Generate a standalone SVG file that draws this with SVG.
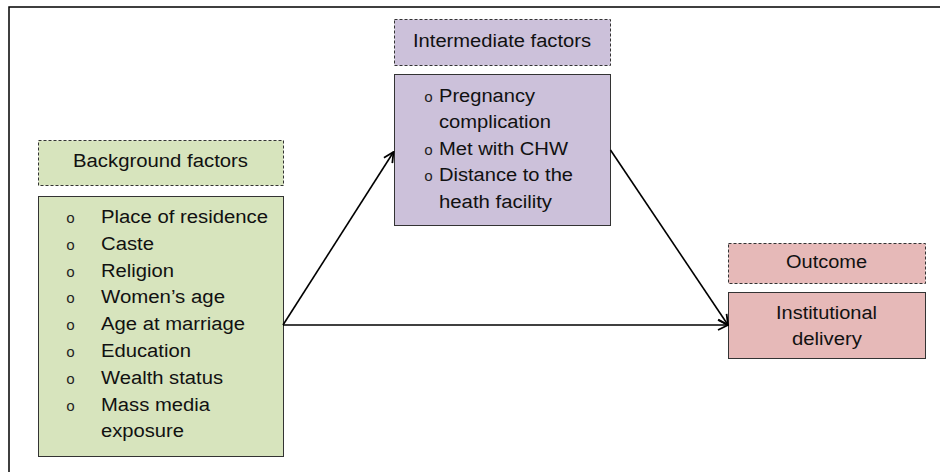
<svg xmlns="http://www.w3.org/2000/svg" width="940" height="472" viewBox="0 0 940 472">
<style>
text{font-family:"Liberation Sans",Arial,sans-serif;font-size:18px;fill:#111}
.c{text-anchor:middle}
.b{font-family:"Liberation Mono","Courier New",monospace;font-size:15px;fill:#222}
.hd{stroke:#333;stroke-width:1;stroke-dasharray:3,2}
.bx{stroke:#333;stroke-width:1}
.g{fill:#d7e4bd}.p{fill:#ccc1da}.r{fill:#e6b9b8}
.con{stroke:#000;stroke-width:1.6;fill:none}
</style>
<defs>
<marker id="ah" markerWidth="12" markerHeight="12" refX="11" refY="6" orient="auto" markerUnits="userSpaceOnUse">
<path d="M1,1 L11,6 L1,11" fill="none" stroke="#000" stroke-width="1.8"/>
</marker>
</defs>
<rect x="9" y="7" width="940" height="470" fill="#fff" stroke="#000" stroke-width="1.5"/>
<g id="background-header">
<rect class="hd g" x="38.5" y="140.5" width="245" height="45"/>
<text class="c" x="160.5" y="166.5" textLength="175" lengthAdjust="spacingAndGlyphs">Background factors</text>
</g>
<g id="background-factors">
<rect class="bx g" x="38.5" y="196.5" width="245" height="260"/>
<text class="b" x="66" y="223">o</text>
<text x="101" y="223" textLength="167" lengthAdjust="spacingAndGlyphs">Place of residence</text>
<text class="b" x="66" y="249.8">o</text>
<text x="101" y="249.8" textLength="53" lengthAdjust="spacingAndGlyphs">Caste</text>
<text class="b" x="66" y="276.6">o</text>
<text x="101" y="276.6" textLength="73" lengthAdjust="spacingAndGlyphs">Religion</text>
<text class="b" x="66" y="303.4">o</text>
<text x="101" y="303.4" textLength="124" lengthAdjust="spacingAndGlyphs">Women’s age</text>
<text class="b" x="66" y="330.2">o</text>
<text x="101" y="330.2" textLength="144" lengthAdjust="spacingAndGlyphs">Age at marriage</text>
<text class="b" x="66" y="357">o</text>
<text x="101" y="357" textLength="90" lengthAdjust="spacingAndGlyphs">Education</text>
<text class="b" x="66" y="383.8">o</text>
<text x="101" y="383.8" textLength="122" lengthAdjust="spacingAndGlyphs">Wealth status</text>
<text class="b" x="66" y="410.6">o</text>
<text x="101" y="410.6" textLength="109" lengthAdjust="spacingAndGlyphs">Mass media</text>
<text x="101" y="437.4" textLength="83" lengthAdjust="spacingAndGlyphs">exposure</text>
</g>
<g id="intermediate-header">
<rect class="hd p" x="394.5" y="19.5" width="216" height="46"/>
<text class="c" x="502" y="46.7" textLength="178" lengthAdjust="spacingAndGlyphs">Intermediate factors</text>
</g>
<g id="intermediate-factors">
<rect class="bx p" x="394.5" y="74.5" width="216" height="151"/>
<text class="b" x="424" y="101.7">o</text>
<text x="439" y="101.7" textLength="96" lengthAdjust="spacingAndGlyphs">Pregnancy</text>
<text x="439" y="128.2" textLength="112" lengthAdjust="spacingAndGlyphs">complication</text>
<text class="b" x="424" y="154.7">o</text>
<text x="439" y="154.7" textLength="129" lengthAdjust="spacingAndGlyphs">Met with CHW</text>
<text class="b" x="424" y="181.2">o</text>
<text x="439" y="181.2" textLength="134" lengthAdjust="spacingAndGlyphs">Distance to the</text>
<text x="439" y="207.7" textLength="113" lengthAdjust="spacingAndGlyphs">heath facility</text>
</g>
<g id="outcome-header">
<rect class="hd r" x="728.5" y="243.5" width="197" height="40"/>
<text class="c" x="826.5" y="268.3" textLength="81" lengthAdjust="spacingAndGlyphs">Outcome</text>
</g>
<g id="outcome">
<rect class="bx r" x="728.5" y="292.5" width="197" height="66"/>
<text class="c" x="826.5" y="318.7" textLength="101" lengthAdjust="spacingAndGlyphs">Institutional</text>
<text class="c" x="827" y="345.4" textLength="70" lengthAdjust="spacingAndGlyphs">delivery</text>
</g>
<g id="connectors">
<line class="con" x1="283" y1="325" x2="393.5" y2="152" marker-end="url(#ah)"/>
<line class="con" x1="283" y1="325" x2="728" y2="325" marker-end="url(#ah)"/>
<line class="con" x1="610.5" y1="150" x2="728" y2="325" marker-end="url(#ah)"/>
</g>
</svg>
